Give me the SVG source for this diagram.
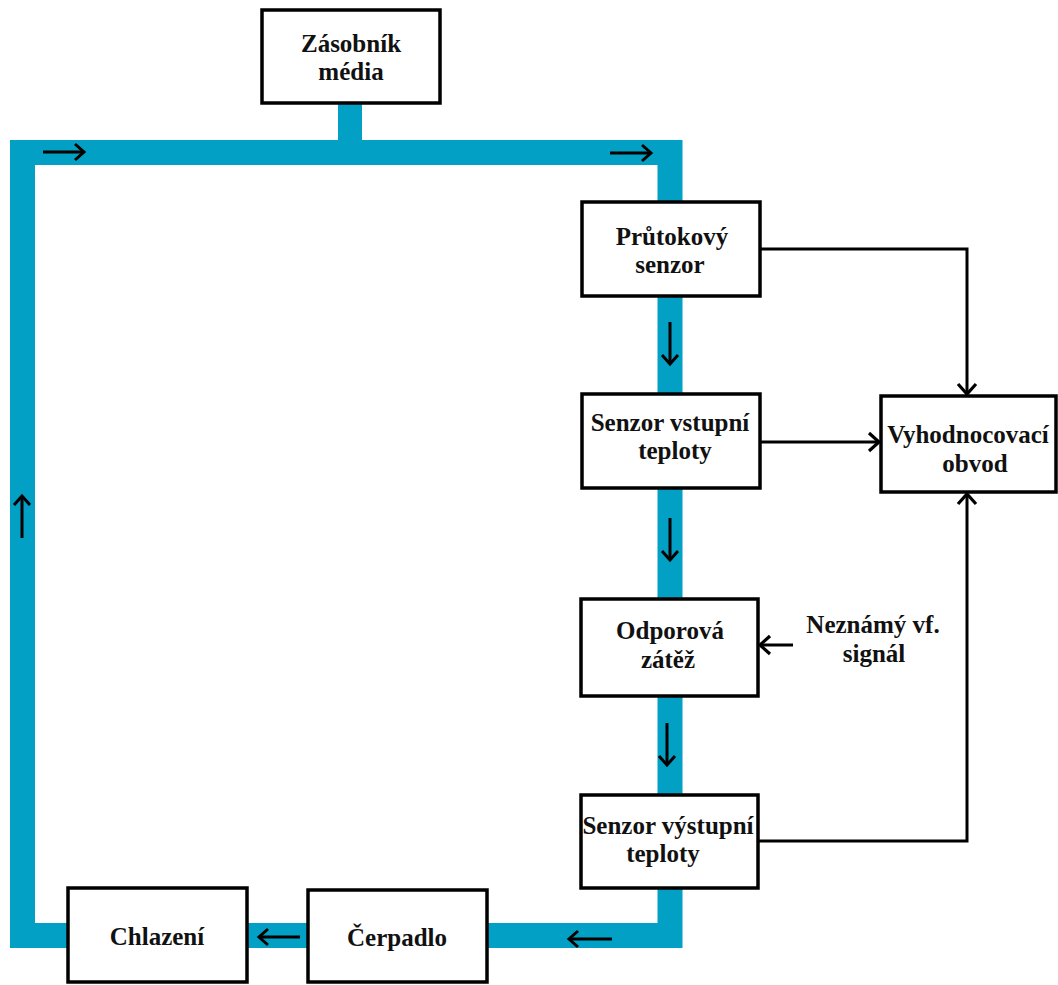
<svg xmlns="http://www.w3.org/2000/svg" width="1058" height="985" viewBox="0 0 1058 985">
<style>
.box{fill:#fff;stroke:#000;stroke-width:3.5}
.t{font-family:"Liberation Serif","Times New Roman",serif;font-weight:bold;font-size:25px;fill:#111;text-anchor:middle}
.pipe{fill:none;stroke:#02A0C4;stroke-width:25;stroke-linejoin:miter}
.conn{fill:none;stroke:#000;stroke-width:3}
.flow{fill:none;stroke:#000;stroke-width:3}
</style>
<defs>
<marker id="ah" markerUnits="userSpaceOnUse" markerWidth="30" markerHeight="30" refX="0" refY="0" viewBox="-15 -15 30 30" orient="auto" overflow="visible">
<path d="M-10,-9 L0,0 L-10,9" fill="none" stroke="#000" stroke-width="3.2"/>
</marker>
<marker id="fh" markerUnits="userSpaceOnUse" markerWidth="30" markerHeight="30" refX="0" refY="0" viewBox="-15 -15 30 30" orient="auto" overflow="visible">
<path d="M-9,-8 L0,0 L-9,8" fill="none" stroke="#000" stroke-width="3"/>
</marker>
</defs>
<g id="pipes">
<path class="pipe" d="M22.5,152.5 H670 V935.5 H22.5 Z"/>
<rect x="338" y="100" width="24" height="45" fill="#02A0C4"/>
</g>
<g id="flow-arrows">
<path class="flow" d="M43,152 H84" marker-end="url(#fh)"/>
<path class="flow" d="M610,153 H651" marker-end="url(#fh)"/>
<path class="flow" d="M670,322 V364" marker-end="url(#fh)"/>
<path class="flow" d="M670,518 V560" marker-end="url(#fh)"/>
<path class="flow" d="M667,723 V765" marker-end="url(#fh)"/>
<path class="flow" d="M612,939 H569" marker-end="url(#fh)"/>
<path class="flow" d="M300,937 H259" marker-end="url(#fh)"/>
<path class="flow" d="M22,538 V496" marker-end="url(#fh)"/>
</g>
<g id="connectors">
<path class="conn" d="M760,249 H967 V394" marker-end="url(#ah)"/>
<path class="conn" d="M760,442 H879" marker-end="url(#ah)"/>
<path class="conn" d="M758,841 H967 V494" marker-end="url(#ah)"/>
<path class="conn" d="M793,645 H760" marker-end="url(#ah)"/>
</g>
<g id="zasobnik">
<rect class="box" x="262" y="10" width="178" height="93"/>
<text class="t" x="351" y="52">Zásobník</text>
<text class="t" x="351" y="80">média</text>
</g>
<g id="prutokovy">
<rect class="box" x="582" y="202" width="178" height="94"/>
<text class="t" x="672" y="245">Průtokový</text>
<text class="t" x="670" y="273">senzor</text>
</g>
<g id="vstupni">
<rect class="box" x="582" y="394" width="178" height="94"/>
<text class="t" x="670" y="431">Senzor vstupní</text>
<text class="t" x="675" y="459">teploty</text>
</g>
<g id="vyhodnocovaci">
<rect class="box" x="881" y="396" width="175" height="96"/>
<text class="t" x="968" y="443">Vyhodnocovací</text>
<text class="t" x="975" y="472">obvod</text>
</g>
<g id="odporova">
<rect class="box" x="581" y="599" width="177" height="97"/>
<text class="t" x="670" y="639">Odporová</text>
<text class="t" x="668" y="668">zátěž</text>
</g>
<g id="signal">
<text class="t" x="873" y="633">Neznámý vf.</text>
<text class="t" x="874" y="662">signál</text>
</g>
<g id="vystupni">
<rect class="box" x="581" y="795" width="177" height="93"/>
<text class="t" x="668" y="834">Senzor výstupní</text>
<text class="t" x="663" y="862">teploty</text>
</g>
<g id="cerpadlo">
<rect class="box" x="308" y="890" width="179" height="92"/>
<text class="t" x="397" y="946">Čerpadlo</text>
</g>
<g id="chlazeni">
<rect class="box" x="68" y="888" width="179" height="94"/>
<text class="t" x="157" y="945">Chlazení</text>
</g>
</svg>
